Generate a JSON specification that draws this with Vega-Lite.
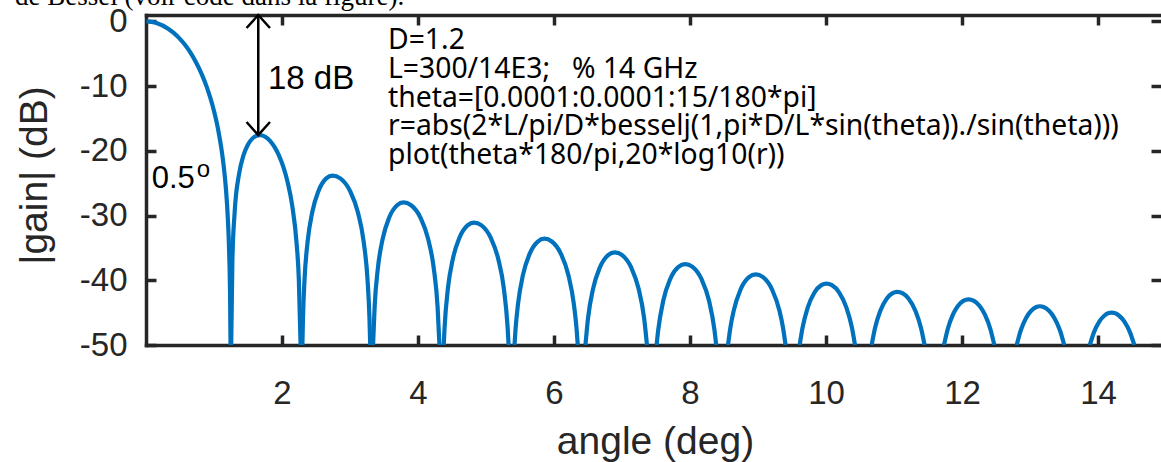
{
  "$schema": "https://vega.github.io/schema/vega-lite/v6.json",
  "width": 1015,
  "height": 330,
  "autosize": {"type": "none"},
  "padding": {"left": 146, "top": 15, "right": 0, "bottom": 117},
  "background": "white",
  "config": {
    "view": {"stroke": null},
    "axis": {
      "grid": false,
      "zindex": 1,
      "domainColor": "#262626",
      "domainWidth": 3.5,
      "domainCap": "square",
      "tickColor": "#262626",
      "tickWidth": 3.5,
      "tickSize": -10,
      "labelFont": "Liberation Sans",
      "labelFontSize": 33,
      "labelColor": "#262626",
      "titleFont": "Liberation Sans",
      "titleFontSize": 39,
      "titleFontWeight": "normal",
      "titleColor": "#262626"
    }
  },
  "resolve": {"axis": {"x": "independent", "y": "independent"}},
  "layer": [
    {
      "data": {"values": [
        {"angle":0.0057,"gain":0,"lobe":1},{"angle":0.0814,"gain":-0.07,"lobe":1},{"angle":0.1628,"gain":-0.27,"lobe":1},{"angle":0.3257,"gain":-1.11,"lobe":1},{"angle":0.4071,"gain":-1.76,"lobe":1},{"angle":0.4885,"gain":-2.57,"lobe":1},{"angle":0.5699,"gain":-3.57,"lobe":1},{"angle":0.6513,"gain":-4.78,"lobe":1},{"angle":0.7328,"gain":-6.25,"lobe":1},{"angle":0.8142,"gain":-8.01,"lobe":1},{"angle":0.8956,"gain":-10.18,"lobe":1},{"angle":0.9771,"gain":-12.92,"lobe":1},{"angle":1.0585,"gain":-16.57,"lobe":1},{"angle":1.1399,"gain":-22.10,"lobe":1},{"angle":1.1725,"gain":-25.51,"lobe":1},{"angle":1.2050,"gain":-30.73,"lobe":1},{"angle":1.2213,"gain":-35.11,"lobe":1},{"angle":1.2376,"gain":-43.45,"lobe":1},{"angle":1.2430,"gain":-50,"lobe":1},
        {"angle":1.2528,"gain":-50,"lobe":2},{"angle":1.2701,"gain":-37.11,"lobe":2},{"angle":1.3027,"gain":-29.63,"lobe":2},{"angle":1.3678,"gain":-23.61,"lobe":2},{"angle":1.4330,"gain":-20.71,"lobe":2},{"angle":1.4981,"gain":-19.05,"lobe":2},{"angle":1.5632,"gain":-18.11,"lobe":2},{"angle":1.6284,"gain":-17.65,"lobe":2},{"angle":1.6728,"gain":-17.57,"lobe":2},{"angle":1.6935,"gain":-17.59,"lobe":2},{"angle":1.7587,"gain":-17.86,"lobe":2},{"angle":1.8238,"gain":-18.46,"lobe":2},{"angle":1.8892,"gain":-19.39,"lobe":2},{"angle":1.9544,"gain":-20.70,"lobe":2},{"angle":2.0196,"gain":-22.48,"lobe":2},{"angle":2.0847,"gain":-24.92,"lobe":2},{"angle":2.1499,"gain":-28.43,"lobe":2},{"angle":2.2151,"gain":-34.34,"lobe":2},{"angle":2.2477,"gain":-39.89,"lobe":2},{"angle":2.2734,"gain":-50,"lobe":2},
        {"angle":2.2997,"gain":-50,"lobe":3},{"angle":2.3083,"gain":-45.92,"lobe":3},{"angle":2.3311,"gain":-39.92,"lobe":3},{"angle":2.3768,"gain":-34.01,"lobe":3},{"angle":2.4453,"gain":-29.45,"lobe":3},{"angle":2.5367,"gain":-26.19,"lobe":3},{"angle":2.6509,"gain":-24.25,"lobe":3},{"angle":2.7423,"gain":-23.81,"lobe":3},{"angle":2.8569,"gain":-24.25,"lobe":3},{"angle":3.0001,"gain":-26.19,"lobe":3},{"angle":3.1146,"gain":-29.45,"lobe":3},{"angle":3.2005,"gain":-34.01,"lobe":3},{"angle":3.2578,"gain":-39.92,"lobe":3},{"angle":3.2865,"gain":-45.92,"lobe":3},{"angle":3.2972,"gain":-50,"lobe":3},
        {"angle":3.3389,"gain":-50,"lobe":4},{"angle":3.3623,"gain":-44.07,"lobe":4},{"angle":3.4095,"gain":-38.16,"lobe":4},{"angle":3.4803,"gain":-33.60,"lobe":4},{"angle":3.5746,"gain":-30.34,"lobe":4},{"angle":3.6926,"gain":-28.40,"lobe":4},{"angle":3.7870,"gain":-27.96,"lobe":4},{"angle":3.8983,"gain":-28.40,"lobe":4},{"angle":4.0373,"gain":-30.34,"lobe":4},{"angle":4.1486,"gain":-33.60,"lobe":4},{"angle":4.2320,"gain":-38.16,"lobe":4},{"angle":4.2877,"gain":-44.07,"lobe":4},{"angle":4.3153,"gain":-50,"lobe":4},
        {"angle":4.3781,"gain":-50,"lobe":5},{"angle":4.3914,"gain":-47.19,"lobe":5},{"angle":4.4395,"gain":-41.28,"lobe":5},{"angle":4.5117,"gain":-36.72,"lobe":5},{"angle":4.6079,"gain":-33.46,"lobe":5},{"angle":4.7282,"gain":-31.52,"lobe":5},{"angle":4.8244,"gain":-31.08,"lobe":5},{"angle":4.9339,"gain":-31.52,"lobe":5},{"angle":5.0708,"gain":-33.46,"lobe":5},{"angle":5.1803,"gain":-36.72,"lobe":5},{"angle":5.2624,"gain":-41.28,"lobe":5},{"angle":5.3172,"gain":-47.19,"lobe":5},{"angle":5.3323,"gain":-50,"lobe":5},
        {"angle":5.4189,"gain":-50,"lobe":6},{"angle":5.4352,"gain":-47.43,"lobe":6},{"angle":5.4694,"gain":-43.77,"lobe":6},{"angle":5.5425,"gain":-39.21,"lobe":6},{"angle":5.6399,"gain":-35.95,"lobe":6},{"angle":5.7617,"gain":-34.01,"lobe":6},{"angle":5.8592,"gain":-33.57,"lobe":6},{"angle":5.9677,"gain":-34.01,"lobe":6},{"angle":6.1033,"gain":-35.95,"lobe":6},{"angle":6.2118,"gain":-39.21,"lobe":6},{"angle":6.2931,"gain":-43.77,"lobe":6},{"angle":6.3311,"gain":-47.43,"lobe":6},{"angle":6.3493,"gain":-50,"lobe":6},
        {"angle":6.4623,"gain":-50,"lobe":7},{"angle":6.5001,"gain":-45.88,"lobe":7},{"angle":6.5739,"gain":-41.32,"lobe":7},{"angle":6.6724,"gain":-38.06,"lobe":7},{"angle":6.7954,"gain":-36.12,"lobe":7},{"angle":6.8939,"gain":-35.68,"lobe":7},{"angle":7.0018,"gain":-36.12,"lobe":7},{"angle":7.1366,"gain":-38.06,"lobe":7},{"angle":7.2444,"gain":-41.32,"lobe":7},{"angle":7.3253,"gain":-45.88,"lobe":7},{"angle":7.3668,"gain":-50,"lobe":7},
        {"angle":7.5087,"gain":-50,"lobe":8},{"angle":7.5324,"gain":-47.69,"lobe":8},{"angle":7.6069,"gain":-43.13,"lobe":8},{"angle":7.7061,"gain":-39.87,"lobe":8},{"angle":7.8302,"gain":-37.93,"lobe":8},{"angle":7.9294,"gain":-37.49,"lobe":8},{"angle":8.0369,"gain":-37.93,"lobe":8},{"angle":8.1713,"gain":-39.87,"lobe":8},{"angle":8.2788,"gain":-43.13,"lobe":8},{"angle":8.3594,"gain":-47.69,"lobe":8},{"angle":8.3851,"gain":-50,"lobe":8},
        {"angle":8.5587,"gain":-50,"lobe":9},{"angle":8.5919,"gain":-47.42,"lobe":9},{"angle":8.6418,"gain":-44.72,"lobe":9},{"angle":8.7418,"gain":-41.46,"lobe":9},{"angle":8.8667,"gain":-39.52,"lobe":9},{"angle":8.9667,"gain":-39.08,"lobe":9},{"angle":9.0740,"gain":-39.52,"lobe":9},{"angle":9.2082,"gain":-41.46,"lobe":9},{"angle":9.3155,"gain":-44.72,"lobe":9},{"angle":9.3691,"gain":-47.42,"lobe":9},{"angle":9.4048,"gain":-50,"lobe":9},
        {"angle":9.6127,"gain":-50,"lobe":10},{"angle":9.6542,"gain":-47.36,"lobe":10},{"angle":9.7297,"gain":-44.25,"lobe":10},{"angle":9.8303,"gain":-41.89,"lobe":10},{"angle":9.9309,"gain":-40.74,"lobe":10},{"angle":10.0063,"gain":-40.50,"lobe":10},{"angle":10.0868,"gain":-40.74,"lobe":10},{"angle":10.1941,"gain":-41.89,"lobe":10},{"angle":10.3014,"gain":-44.25,"lobe":10},{"angle":10.3818,"gain":-47.36,"lobe":10},{"angle":10.4261,"gain":-50,"lobe":10},
        {"angle":10.6713,"gain":-50,"lobe":11},{"angle":10.7199,"gain":-47.42,"lobe":11},{"angle":10.7959,"gain":-44.79,"lobe":11},{"angle":10.8971,"gain":-42.78,"lobe":11},{"angle":10.9730,"gain":-42.02,"lobe":11},{"angle":11.0489,"gain":-41.78,"lobe":11},{"angle":11.1294,"gain":-42.02,"lobe":11},{"angle":11.2099,"gain":-42.78,"lobe":11},{"angle":11.3173,"gain":-44.79,"lobe":11},{"angle":11.3978,"gain":-47.42,"lobe":11},{"angle":11.4494,"gain":-50,"lobe":11},
        {"angle":11.7346,"gain":-50,"lobe":12},{"angle":11.7893,"gain":-47.56,"lobe":12},{"angle":11.8657,"gain":-45.32,"lobe":12},{"angle":11.9420,"gain":-43.94,"lobe":12},{"angle":12.0184,"gain":-43.18,"lobe":12},{"angle":12.0948,"gain":-42.94,"lobe":12},{"angle":12.1754,"gain":-43.18,"lobe":12},{"angle":12.2561,"gain":-43.94,"lobe":12},{"angle":12.3367,"gain":-45.32,"lobe":12},{"angle":12.4174,"gain":-47.56,"lobe":12},{"angle":12.4751,"gain":-50,"lobe":12},
        {"angle":12.8038,"gain":-50,"lobe":13},{"angle":12.8629,"gain":-47.76,"lobe":13},{"angle":12.9398,"gain":-45.85,"lobe":13},{"angle":13.0166,"gain":-44.70,"lobe":13},{"angle":13.0935,"gain":-44.12,"lobe":13},{"angle":13.1447,"gain":-44.01,"lobe":13},{"angle":13.1986,"gain":-44.12,"lobe":13},{"angle":13.2794,"gain":-44.70,"lobe":13},{"angle":13.3601,"gain":-45.85,"lobe":13},{"angle":13.4409,"gain":-47.76,"lobe":13},{"angle":13.5031,"gain":-50,"lobe":13},
        {"angle":13.8793,"gain":-50,"lobe":14},{"angle":13.9411,"gain":-48.01,"lobe":14},{"angle":14.0184,"gain":-46.39,"lobe":14},{"angle":14.0957,"gain":-45.44,"lobe":14},{"angle":14.1576,"gain":-45.07,"lobe":14},{"angle":14.1988,"gain":-45.00,"lobe":14},{"angle":14.2420,"gain":-45.07,"lobe":14},{"angle":14.3068,"gain":-45.44,"lobe":14},{"angle":14.3879,"gain":-46.39,"lobe":14},{"angle":14.4689,"gain":-48.01,"lobe":14},{"angle":14.5336,"gain":-50,"lobe":14}
      ]},
      "mark": {"type": "line", "color": "#0072BD", "strokeWidth": 4.2, "interpolate": "monotone", "clip": true},
      "encoding": {
        "x": {
          "field": "angle", "type": "quantitative",
          "scale": {"domain": [0, 14.926], "nice": false, "zero": false},
          "axis": {"orient": "bottom", "values": [2, 4, 6, 8, 10, 12, 14], "title": "angle (deg)", "labelBaseline": "alphabetic", "labelPadding": 68, "titleX": 509, "titleY": 108, "titleBaseline": "alphabetic", "titleAlign": "center", "titleAnchor": null}
        },
        "y": {
          "field": "gain", "type": "quantitative",
          "scale": {"domain": [-50, 1], "nice": false, "zero": false},
          "axis": {"orient": "left", "values": [0, -10, -20, -30, -40, -50], "labelExpr": "replace(datum.label, '\u2212', '-')", "title": "|gain| (dB)", "labelPadding": 29, "titleX": -112, "titleY": 160, "titleAngle": 270, "titleAlign": "center", "titleBaseline": "middle"}
        },
        "detail": {"field": "lobe", "type": "nominal"}
      }
    },
    {
      "data": {"values": [{}]},
      "mark": {"type": "rule", "color": "black", "strokeWidth": 2.5},
      "encoding": {
        "x": {"datum": 1.651, "type": "quantitative", "axis": {"orient": "top", "values": [2, 4, 6, 8, 10, 12, 14], "labels": false, "title": null}},
        "y": {"datum": 1.0, "type": "quantitative", "axis": {"orient": "right", "values": [0, -10, -20, -30, -40, -50], "labels": false, "title": null, "domain": false}},
        "y2": {"datum": -17.55}
      }
    },
    {
      "data": {"values": [{}]},
      "mark": {"type": "point", "shape": "M-1,1.11L0,0L1,1.11", "size": 548, "filled": false, "stroke": "black", "strokeWidth": 2.5, "opacity": 1},
      "encoding": {
        "x": {"datum": 1.651, "type": "quantitative", "axis": null},
        "y": {"datum": 1.0, "type": "quantitative", "axis": null}
      }
    },
    {
      "data": {"values": [{}]},
      "mark": {"type": "point", "shape": "M-1,-1.11L0,0L1,-1.11", "size": 548, "filled": false, "stroke": "black", "strokeWidth": 2.5, "opacity": 1},
      "encoding": {
        "x": {"datum": 1.651, "type": "quantitative", "axis": null},
        "y": {"datum": -17.55, "type": "quantitative", "axis": null}
      }
    },
    {
      "data": {"values": [{}]},
      "mark": {"type": "text", "align": "left", "baseline": "alphabetic", "font": "Liberation Sans", "fontSize": 33, "color": "black", "text": "18 dB"},
      "encoding": {
        "x": {"datum": 1.794, "type": "quantitative", "axis": null},
        "y": {"datum": -10.48, "type": "quantitative", "axis": null}
      }
    },
    {
      "data": {"values": [{}]},
      "mark": {"type": "text", "align": "left", "baseline": "alphabetic", "font": "Liberation Sans", "fontSize": 31, "color": "black", "text": "0.5"},
      "encoding": {
        "x": {"datum": 0.084, "type": "quantitative", "axis": null},
        "y": {"datum": -25.78, "type": "quantitative", "axis": null}
      }
    },
    {
      "data": {"values": [{}]},
      "mark": {"type": "text", "align": "left", "baseline": "alphabetic", "font": "Liberation Sans", "fontSize": 24, "color": "black", "text": "o"},
      "encoding": {
        "x": {"datum": 0.746, "type": "quantitative", "axis": null},
        "y": {"datum": -23.99, "type": "quantitative", "axis": null}
      }
    },
    {
      "data": {"values": [{}]},
      "mark": {"type": "text", "align": "left", "baseline": "alphabetic", "font": "Noto Sans", "fontSize": 28.3, "lineHeight": 28.7, "color": "black",
        "text": ["D=1.2", "L=300/14E3;\u00a0\u00a0\u00a0% 14 GHz", "theta=[0.0001:0.0001:15/180*pi]", "r=abs(2*L/pi/D*besselj(1,pi*D/L*sin(theta))./sin(theta)))", "plot(theta*180/pi,20*log10(r))"]},
      "encoding": {
        "x": {"datum": 3.559, "type": "quantitative", "axis": null},
        "y": {"datum": -4.30, "type": "quantitative", "axis": null}
      }
    },
    {
      "data": {"values": [{}]},
      "mark": {"type": "text", "align": "left", "baseline": "alphabetic", "font": "Liberation Serif", "fontSize": 27, "color": "black", "text": "de Bessel (voir code dans la figure)."},
      "encoding": {
        "x": {"datum": -1.926, "type": "quantitative", "axis": null},
        "y": {"datum": 2.55, "type": "quantitative", "axis": null}
      }
    }
  ]
}
